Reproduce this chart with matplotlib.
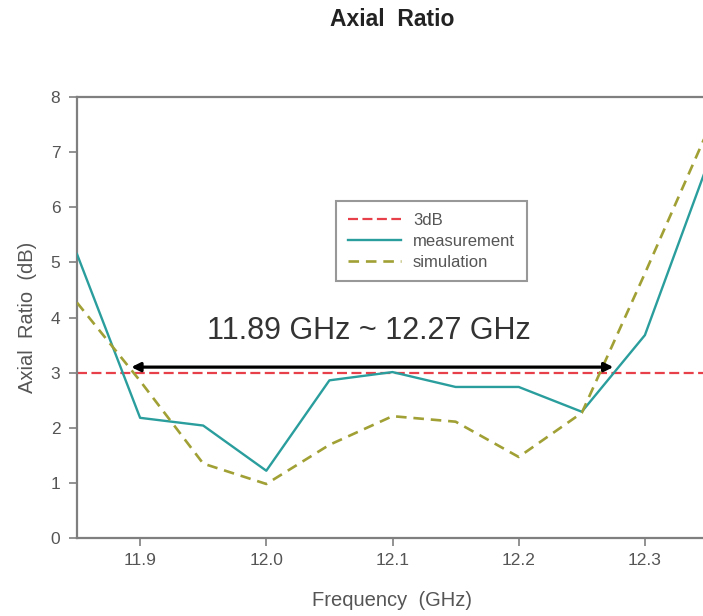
import matplotlib
matplotlib.use('Agg')
import matplotlib.pyplot as plt
import numpy as np

plt.rcParams['font.family'] = ['Liberation Sans', 'DejaVu Sans']

# frequency points (GHz)
freq = [11.85, 11.90, 11.95, 12.00, 12.05, 12.10, 12.15, 12.20, 12.25, 12.30, 12.35]
measurement = [5.15, 2.18, 2.04, 1.22, 2.86, 3.01, 2.74, 2.74, 2.29, 3.68, 6.8]
simulation = [4.27, 2.85, 1.35, 0.98, 1.69, 2.21, 2.11, 1.47, 2.27, 4.8, 7.4]
threshold = 3.0
band = (11.893, 12.275)
band_label = '11.89 GHz ~ 12.27 GHz'

xticks = [11.9, 12.0, 12.1, 12.2, 12.3]
yticks = [0, 1, 2, 3, 4, 5, 6, 7, 8]

gray = '#7f7f7f'
txt_gray = '#555555'

fig = plt.figure(figsize=(7.03, 6.16), dpi=100)
ax = fig.add_axes([77/703, 78/616, 631/703, 441/616])

ax.axhline(threshold, color='#e8404a', lw=1.6, dashes=(4.5, 2.0), label='3dB', zorder=2)
ax.plot(freq, measurement, color='#2a9d9d', lw=1.7, label='measurement', zorder=3)
ax.plot(freq, simulation, color='#a0a035', lw=1.9, dashes=(4.0, 2.6), label='simulation', zorder=3)

ax.annotate('', xy=(band[0], 3.1), xytext=(band[1], 3.1),
            arrowprops=dict(arrowstyle='<|-|>', color='black', lw=2.3,
                            mutation_scale=13, shrinkA=0, shrinkB=0), zorder=4)
ax.text((band[0] + band[1]) / 2 - 0.003, 3.76, band_label, fontsize=22,
        color='#333333', ha='center', va='center')

ax.set_xlim(11.85, 12.35)
ax.set_ylim(0, 8)
ax.set_xticks(xticks)
ax.set_xticklabels(['%.1f' % v for v in xticks])
ax.set_yticks(yticks)

for s in ['left', 'bottom', 'top']:
    ax.spines[s].set_color(gray)
    ax.spines[s].set_linewidth(1.6)
ax.spines['right'].set_visible(False)

ax.tick_params(axis='both', direction='out', length=6, width=1.2, color=gray,
               labelcolor=txt_gray, labelsize=12.5)
ax.tick_params(axis='x', pad=5)
ax.tick_params(axis='y', pad=6)

ax.set_xlabel('Frequency  (GHz)', fontsize=14.5, color=txt_gray, labelpad=16)
ax.set_ylabel('Axial  Ratio  (dB)', fontsize=14.5, color=txt_gray, labelpad=10)

fig.text((77 + 708) / 2 / 703, 1 - 20/616, 'Axial  Ratio', fontsize=16.5,
         fontweight='bold', color='#222222', ha='center', va='center')

leg = ax.legend(loc='upper left', bbox_to_anchor=(328/703, 1 - 193/616),
                bbox_transform=fig.transFigure, fontsize=12, frameon=True,
                fancybox=False, handlelength=3.2, handletextpad=0.7,
                labelspacing=0.35, borderpad=0.7)
leg.get_frame().set_edgecolor(gray)
leg.get_frame().set_linewidth(1.5)
for t in leg.get_texts():
    t.set_color(txt_gray)

fig.savefig('out.png', dpi=100)
